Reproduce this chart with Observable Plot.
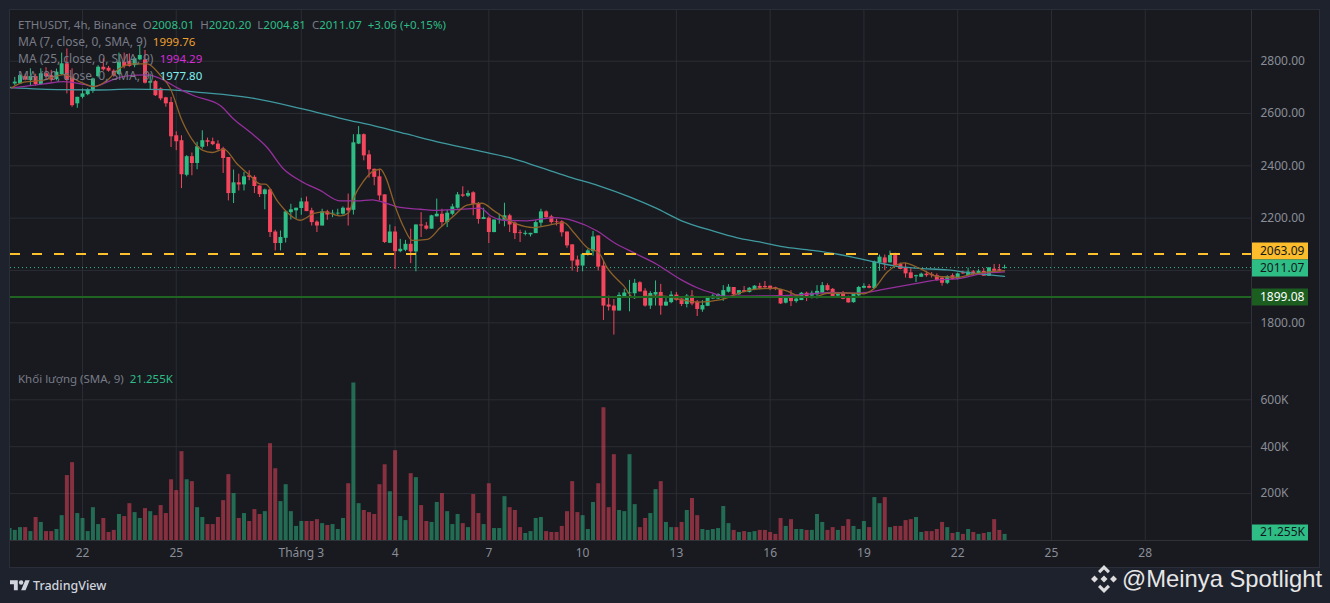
<!DOCTYPE html>
<html lang="vi">
<head>
<meta charset="utf-8">
<script src="https://cdn.jsdelivr.net/npm/d3@7"></script>
<script src="https://cdn.jsdelivr.net/npm/@observablehq/plot@0.6"></script>
<style>
  html, body { margin:0; padding:0; width:1330px; height:603px; overflow:hidden; background:#1e222d; }
  #pane { position:absolute; left:10px; top:10px; width:1309px; height:557px; background:#181a20; outline:1px solid #2a2e39; }
  #price, #volume { position:absolute; left:0; }
  #price { top:0; } #volume { top:363px; }
  .legend { position:absolute; left:18px; font:12px/14px "Noto Sans", sans-serif; color:#787b86; white-space:pre; }
  .up { color:#2ebd85; }
  #tv { position:absolute; left:10px; top:576px; height:18px; display:flex; align-items:center; color:#d1d4dc; font:500 12.5px "Noto Sans", sans-serif; }
  #wm { position:absolute; left:1122px; top:565px; color:#e6e6e6; font:23.8px "Liberation Sans", sans-serif; white-space:pre; }
  #wmlogo { position:absolute; left:1090px; top:565px; }
</style>
</head>
<body>
<div id="pane"></div>
<div id="price"></div>
<div id="volume"></div>
<div class="legend" style="top:18px;font-size:11.5px">ETHUSDT, 4h, Binance  O<span class="up">2008.01</span>  H<span class="up">2020.20</span>  L<span class="up">2004.81</span>  C<span class="up">2011.07</span>  <span class="up">+3.06 (+0.15%)</span></div>
<div class="legend" style="top:35px">MA (7, close, 0, SMA, 9)  <span style="color:#f0a02e;font-size:11.5px">1999.76</span></div>
<div class="legend" style="top:52px">MA (25, close, 0, SMA, 9)  <span style="color:#d62bd6;font-size:11.5px">1994.29</span></div>
<div class="legend" style="top:69px">MA (99, close, 0, SMA, 9)  <span style="color:#7ff0f0;font-size:11.5px">1977.80</span></div>
<div class="legend" style="top:372px;font-size:11.5px">Khối lượng (SMA, 9)  <span class="up">21.255K</span></div>
<div id="tv"><svg width="20" height="12" viewBox="0 2 36 21" style="margin-right:3px"><path fill="#d1d4dc" d="M14 22H7V11H0V4h14v18zM28 22h-8l7.5-18h8L28 22z"/><circle fill="#d1d4dc" cx="20" cy="8" r="4"/></svg>TradingView</div>
<svg id="wmlogo" width="28" height="28" viewBox="0 0 28 28" fill="#dcdcdc"><path d="M14 0l6 6-2.2 2.2L14 4.4l-3.8 3.8L8 6zM14 28l-6-6 2.2-2.2 3.8 3.8 3.8-3.8L20 22zM4.5 10.5L8 14l-3.5 3.5L1 14zM23.5 10.5L27 14l-3.5 3.5L20 14zM14 10.5l3.5 3.5-3.5 3.5-3.5-3.5z"/></svg>
<div id="wm">@Meinya Spotlight</div>
<script>
// 4h bars; index 0 is 22 Feb 00:00
const firstBar = -14;
const opens = [2698,2713,2713,2741,2726,2741,2711,2752,2745,2730,2749,2790,2736,2637,2662,2672,2685,2741,2777,2773,2762,2749,2796,2799,2783,2805,2805,2716,2722,2694,2660,
 2642,2515,2496,2364,2435,2409,2471,2496,2492,2483,2465,2432,2294,2335,2327,2362,2356,2323,2290,2308,2147,2103,2123,2221,2228,2237,2262,2228,2185,2170,2224,2216,2216,
 2215,2238,2230,2483,2519,2442,2387,2358,2289,2104,2147,2072,2077,2100,2071,2174,2170,2158,2205,2215,2183,2215,2238,2289,2284,2297,2256,2195,2200,2145,2192,2192,2209,2181,2144,2138,2136,2141,2181,2224,2205,2186,2186,2147,2098,2040,2017,2058,2072,2132,2017,1868,1864,1845,1898,1911,1911,1953,1921,1864,1906,1916,1864,1877,1906,
 1891,1870,1902,1879,1849,1863,1891,1891,1900,1917,1935,1907,1923,1916,1926,1939,1939,1940,1934,1927,1875,1898,1881,1885,1913,1902,1907,1913,1942,1928,1902,1911,1894,1877,1903,1932,1939,1931,2029,2048,2029,2057,2023,2009,1991,1976,1974,1986,1985,1980,1971,1951,1980,1966,1991,1981,1995,1987,1996,1978,2005,2003,2008.01];
const highs = [2705,2738,2749,2750,2771,2750,2771,2775,2765,2770,2831,2847,2771,2662,2694,2695,2735,2783,2809,2780,2767,2831,2831,2828,2815,2860,2841,2750,2726,2698,2662,
 2662,2530,2515,2439,2449,2490,2534,2506,2506,2496,2471,2432,2384,2368,2375,2381,2362,2323,2311,2311,2154,2151,2228,2253,2238,2276,2281,2238,2190,2234,2230,2230,2234,
 2243,2292,2519,2550,2522,2458,2387,2387,2289,2174,2167,2119,2115,2158,2174,2221,2183,2211,2273,2234,2230,2253,2298,2320,2304,2301,2260,2238,2205,2193,2215,2257,2215,2186,2154,2151,2142,2190,2234,2228,2211,2196,2190,2147,2098,2055,2064,2081,2149,2132,2036,1902,1889,1915,1928,1962,1966,1957,1930,1919,1960,1947,1896,1919,1916,
 1891,1908,1923,1885,1885,1895,1908,1911,1942,1946,1935,1923,1939,1935,1942,1951,1958,1940,1936,1927,1902,1923,1902,1916,1917,1921,1942,1954,1949,1931,1913,1920,1902,1911,1939,1949,1946,2036,2059,2059,2074,2066,2028,2028,2010,1982,1990,1997,1992,1987,1974,1980,1987,1990,1997,2009,2000,2003,2008,2010,2023,2023,2020.2];
const lows = [2695,2707,2713,2725,2707,2705,2707,2730,2720,2725,2745,2675,2624,2620,2656,2668,2677,2736,2762,2758,2739,2745,2771,2777,2775,2802,2713,2690,2665,2649,2624,
 2470,2458,2313,2358,2362,2385,2464,2473,2477,2458,2371,2266,2256,2304,2304,2343,2294,2279,2232,2126,2075,2075,2105,2193,2196,2211,2225,2170,2145,2170,2192,2202,2210,
 2211,2170,2212,2481,2419,2353,2324,2266,2103,2103,2004,2068,2072,2026,1995,2126,2154,2158,2205,2167,2164,2209,2235,2279,2279,2209,2177,2195,2103,2144,2177,2167,2145,2118,2107,2132,2128,2141,2167,2196,2177,2170,2128,2085,1998,1992,1995,2055,2055,1998,1809,1845,1753,1845,1898,1842,1889,1918,1860,1851,1864,1829,1863,1873,1883,
 1862,1857,1865,1824,1840,1862,1889,1889,1882,1914,1904,1904,1914,1914,1923,1926,1930,1923,1923,1870,1872,1862,1875,1885,1881,1891,1891,1911,1921,1898,1895,1888,1875,1875,1900,1930,1930,1928,1997,2000,2028,2018,2003,1971,1968,1954,1973,1974,1971,1958,1940,1946,1964,1964,1985,1980,1981,1985,1978,1977,1995,1994,2004.81];
const closes = [2700,2720,2745,2728,2741,2711,2752,2741,2728,2758,2790,2726,2630,2662,2675,2690,2732,2777,2767,2762,2745,2796,2780,2780,2809,2822,2716,2722,2668,2656,2637,
 2511,2492,2366,2435,2409,2473,2496,2490,2481,2462,2428,2294,2335,2327,2358,2356,2321,2290,2308,2145,2103,2126,2224,2232,2238,2262,2225,2183,2170,2224,2212,2219,2219,
 2238,2228,2488,2519,2438,2385,2356,2285,2107,2147,2072,2081,2100,2071,2174,2170,2158,2209,2215,2183,2219,2243,2289,2284,2294,2253,2195,2202,2145,2193,2196,2209,2174,2141,2141,2142,2142,2183,2224,2202,2183,2183,2144,2094,2036,2017,2062,2075,2128,2013,1864,1860,1845,1905,1914,1914,1951,1918,1864,1912,1916,1864,1879,1906,1886,
 1870,1902,1872,1851,1866,1894,1902,1908,1923,1936,1907,1923,1916,1932,1940,1932,1934,1927,1930,1872,1899,1881,1891,1913,1898,1913,1920,1942,1923,1900,1908,1890,1876,1908,1935,1939,1932,2032,2051,2028,2057,2019,2004,1987,1969,1980,1986,1980,1980,1962,1951,1977,1966,1987,1987,1994,1985,1997,1978,2010,1997,1997,2011.07];
// volume in thousands, same bars
const volumes = [51,43,55,55,38,98,77,38,38,47,106,277,332,115,94,38,140,68,94,34,43,111,102,157,119,94,136,123,106,149,115,
 259,213,379,259,251,140,98,68,68,98,170,281,200,94,115,81,132,111,123,413,306,166,238,123,60,81,81,81,89,72,64,68,47,
 94,242,672,157,128,119,111,238,323,208,383,102,85,285,268,149,81,77,162,200,123,68,111,72,55,196,115,68,242,51,51,187,140,128,55,30,38,94,98,38,34,34,60,123,251,119,106,47,162,242,566,140,366,128,123,366,153,55,94,115,217,251,77,55,55,
 77,128,179,106,47,43,47,51,145,72,43,34,38,34,38,43,43,34,26,94,60,89,47,47,43,43,111,77,43,55,43,60,89,60,47,81,55,183,157,183,55,60,60,85,89,98,34,38,38,47,77,55,30,34,26,47,34,26,30,34,89,43,26];

// moving averages: bar index and price
const ma7Bars = [-13.6,-11.3,-7.4,-3.6,-0.4,2.2,4.7,7,9.9,12.4,15,16.9,19.1,21,23,24.9,27.1,29.7,32.2,34.2,35.1,37.4,39.3,41.8,44.4,46.3,49.5,51.1,52.1,54,55.9,57.2,58.2,60.1,61.7,63.3,66.2,68.7,71.3,73.8,76.7,79,81.5,83.4,86.6,89.8,92.4,94.3,96.9,99.1,100.7,103.9,105.8,108.4,111.6,114.8,118,120.5,123.1,125.7,128.9,132.7,135.3,137.2,140.4,143,146.8,150,151.9,154.5,157.7,160.9,164.1,168,171.1,177];
const ma7Values = [2698,2720,2728,2749,2720,2703,2726,2771,2790,2790,2745,2694,2573,2502,2460,2451,2464,2407,2362,2330,2330,2266,2222,2192,2218,2224,2209,2221,2279,2343,2381,2387,2356,2241,2164,2115,2119,2164,2209,2250,2257,2228,2196,2177,2164,2174,2183,2145,2087,2068,2011,1941,1896,1902,1902,1889,1879,1882,1891,1911,1928,1932,1921,1904,1898,1913,1914,1911,1930,1994,2029,2006,1977,1974,1987,1999.76];
const ma25Bars = [-13.6,-7.4,-3.6,0.3,2.2,5.4,8.6,12.4,15.6,18.2,21.4,26.5,29,32.2,35.4,38.6,41.8,45.7,49.5,52.7,55.6,58.5,60.4,64.9,67.4,72.6,76.4,78.3,80.9,85.3,90.5,94.3,98.8,102,105.8,110.3,114.8,118,121,123,127.6,134,137.2,140.4,143.6,148.7,150.6,153.2,159.6,164.1,168,172.5,177];
const ma25Values = [2698,2713,2722,2711,2703,2726,2744,2748,2728,2698,2668,2630,2579,2528,2471,2388,2343,2305,2266,2266,2270,2256,2243,2234,2230,2234,2238,2209,2192,2190,2202,2190,2151,2107,2068,2023,1966,1934,1913,1902,1902,1904,1907,1911,1916,1913,1916,1926,1949,1964,1968,1987,1994.29];
const ma99Bars = [-14,-4,3,9,16,23,32,42,51,56,62,69,75,82,88,94,99,105,110,115,121,125.7,130,134,140,145,152,156,160,166,172,177];
const ma99Values = [2699,2691,2690,2693,2691,2680,2661,2619,2575,2553,2523,2488,2462,2431,2393,2354,2324,2281,2239,2190,2151,2125,2109,2092,2077,2062,2033,2017,2009,2002,1987,1977.8];

const priceGrid = [2800,2600,2400,2200,2000,1800];
const priceTicks = [2800,2600,2400,2200,1800];
const volumeTicks = [600,400,200];
const dayTicks = [0,18,42,60,78,96,114,132,150,168,186,204];
const dayLabels = ["22","25","Tháng 3","4","7","10","13","16","19","22","25","28"];

const alertLevel = 2063.09, lastPrice = 2011.07, supportLevel = 1899.08;
// value label chips: the level they name and the price they are centred on
const chipTexts = ["2063.09","2011.07","1899.08"];
const chipCentres = [2074.5,2009.5,1899.08];
const chipFills = ["#fcbc2b","#2ebd85","#1b5e20"];
const chipInks = ["#15171c","#15171c","#ffffff"];
const volumeChipText = "21.255K", volumeChipCentre = 34;

const candles = opens.map((o,k)=>({i:k+firstBar,open:o,high:highs[k],low:lows[k],close:closes[k],volume:volumes[k]}));
const UP="#2ebd85", DOWN="#f6465d", GRID="#2a2d33", AXIS="#8a8d96", FONT='"Noto Sans", sans-serif';
const colour = d => d.close>=d.open ? UP : DOWN;
const pair = (xs,ys) => xs.map((x,k)=>({x,y:ys[k]}));

const xDomain=[-13.82,224.4], xRange=[10,1251];
const xAt = d3.scaleLinear().domain(xRange).range(xDomain); // bar index at a pane position, used only for chip extents
const chipX1=xAt(1252), chipX2=xAt(1308), chipTextX=xAt(1259.5);

const base = {width:1330, marginLeft:10, marginRight:79,
  style:{background:"transparent",fontFamily:FONT,fontSize:"12px"}};

const chips = chipTexts.map((t,k)=>({t,y:chipCentres[k],fill:chipFills[k],ink:chipInks[k]}));

const pricePlot = Plot.plot({...base, height:363, marginTop:10, marginBottom:0,
  x:{domain:xDomain, range:xRange, label:null, axis:null},
  y:{domain:[2800,1800], range:[60.7,322.3], label:null},
  marks:[
    Plot.gridX(dayTicks,{x:d=>d,stroke:GRID,strokeOpacity:1}),
    Plot.gridY(priceGrid,{y:d=>d,stroke:GRID,strokeOpacity:1}),
    Plot.ruleX([xDomain[1]],{stroke:"#2f3238"}),
    Plot.ruleY([lastPrice],{stroke:UP,strokeDasharray:"1,3",strokeWidth:1}),
    Plot.ruleX(candles,{x:"i",y1:"low",y2:"high",stroke:colour,strokeWidth:1,clip:true}),
    Plot.ruleX(candles,{x:"i",y1:"open",y2:"close",stroke:colour,strokeWidth:4,clip:true}),
    Plot.line(pair(ma99Bars,ma99Values),{x:"x",y:"y",stroke:"#3f9a9f",strokeWidth:1.3,curve:"monotone-x",clip:true}),
    Plot.line(pair(ma25Bars,ma25Values),{x:"x",y:"y",stroke:"#962f9c",strokeWidth:1.3,curve:"monotone-x",clip:true}),
    Plot.line(pair(ma7Bars,ma7Values),{x:"x",y:"y",stroke:"#8f6129",strokeWidth:1.3,curve:"monotone-x",clip:true}),
    Plot.ruleY([alertLevel],{stroke:"#fcc02c",strokeWidth:2,strokeDasharray:"10,12"}),
    Plot.ruleY([supportLevel],{stroke:"#1f6420",strokeWidth:2}),
    Plot.axisY({anchor:"right",ticks:priceTicks,tickSize:0,tickPadding:9,tickFormat:d=>d.toFixed(2),color:AXIS,label:null}),
    Plot.ruleY(chips,{y:"y",x1:chipX1,x2:chipX2,stroke:"fill",strokeWidth:17}),
    Plot.text(chips,{y:"y",x:chipTextX,text:"t",fill:"ink",textAnchor:"start",fontSize:12})
  ]});
document.getElementById("price").append(pricePlot);

const volumePlot = Plot.plot({...base, height:205, marginTop:0, marginBottom:28,
  x:{domain:xDomain, range:xRange, label:null},
  y:{domain:[0,600], range:[177,36.3], label:null},
  marks:[
    Plot.gridX(dayTicks,{x:d=>d,stroke:GRID,strokeOpacity:1}),
    Plot.gridY(volumeTicks,{y:d=>d,stroke:GRID,strokeOpacity:1}),
    Plot.ruleX([xDomain[1]],{stroke:"#2f3238"}),
    Plot.ruleY([0],{stroke:"#2f3238"}),
    Plot.ruleX(candles,{x:"i",y1:0,y2:"volume",stroke:colour,strokeOpacity:0.5,strokeWidth:4,clip:true}),
    Plot.axisY({anchor:"right",ticks:volumeTicks,tickSize:0,tickPadding:9,tickFormat:d=>d+"K",color:AXIS,label:null}),
    Plot.axisX({anchor:"bottom",ticks:dayTicks,tickSize:0,tickPadding:8,tickFormat:d=>dayLabels[dayTicks.indexOf(d)],color:AXIS,label:null}),
    Plot.ruleY([volumeChipCentre],{x1:chipX1,x2:chipX2,stroke:UP,strokeWidth:16}),
    Plot.text([volumeChipText],{y:volumeChipCentre,x:chipTextX,text:d=>d,fill:"#15171c",textAnchor:"start",fontSize:12})
  ]});
document.getElementById("volume").append(volumePlot);
</script>
</body>
</html>
